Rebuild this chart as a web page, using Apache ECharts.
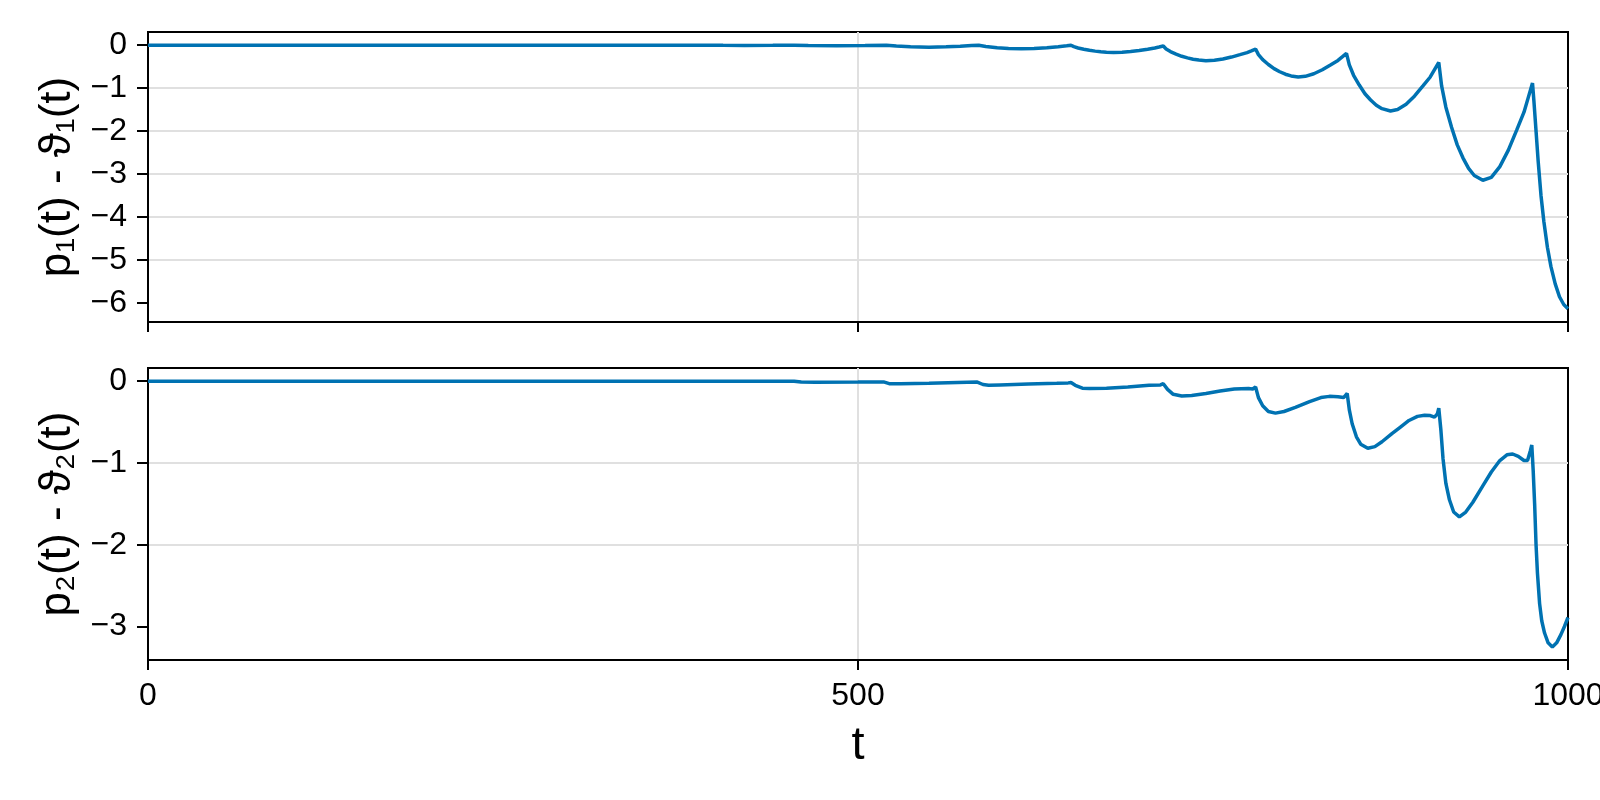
<!DOCTYPE html>
<html><head><meta charset="utf-8">
<script src="https://cdn.jsdelivr.net/npm/echarts@6/dist/echarts.min.js"></script>
<style>html,body{margin:0;padding:0;background:#fff}#c{width:1600px;height:800px}</style>
</head><body><div id="c"></div>
<script>
// ---- data ----
const xTicks = [0, 500, 1000];
const yTicksTop = [-6, -5, -4, -3, -2, -1, 0];
const yTicksBot = [-3, -2, -1, 0];
const xLabel = 't';
const yLabelTop = 'p\u2081(t) - \u03d1\u2081(t)';
const yLabelBot = 'p\u2082(t) - \u03d1\u2082(t)';

const tTop = [0,100,200,300,390,405,420,440,455,465,485,505,520,527,537,550,562,572,580,585,
  590,598,606,615,624,633,641,647,650,652,655,659,663,667,671,675,680,686,692,698,704,709,712,715,
  717,720,724,728,732,736,740,745,751,757,763,769,774,777,780,
  782,785,789,793,797,801,805,810,815,821,827,833,838,841,844,
  846,849,853,857,861,865,869,875,880,886,892,898,903,906,909,
  911,914,918,922,926,930,934,940,946,952,958,964,969,972,975,
  976,977.5,979,981,983,985.5,988,991,994,997,1000];
const vTop = [0,0,0,0,0,-0.004,-0.007,-0.004,0,-0.006,-0.012,-0.007,0,-0.02,-0.035,-0.045,-0.038,-0.024,-0.009,0,
  -0.03,-0.058,-0.075,-0.085,-0.078,-0.058,-0.034,-0.013,0,-0.034,-0.065,-0.094,-0.119,-0.138,-0.153,-0.163,-0.17,-0.166,-0.149,-0.124,-0.092,-0.065,-0.043,-0.02,
  -0.088,-0.149,-0.207,-0.258,-0.295,-0.326,-0.346,-0.36,-0.352,-0.322,-0.276,-0.22,-0.171,-0.131,-0.09,
  -0.22,-0.337,-0.448,-0.545,-0.617,-0.675,-0.714,-0.74,-0.724,-0.663,-0.57,-0.454,-0.355,-0.273,-0.19,
  -0.458,-0.699,-0.927,-1.128,-1.275,-1.396,-1.476,-1.53,-1.496,-1.372,-1.18,-0.942,-0.739,-0.57,-0.4,
  -0.948,-1.441,-1.907,-2.318,-2.619,-2.866,-3.03,-3.14,-3.072,-2.824,-2.439,-1.965,-1.558,-1.219,-0.88,
  -1.3,-2.0,-2.7,-3.5,-4.1,-4.7,-5.15,-5.55,-5.85,-6.03,-6.13];

const tBot = [0,100,200,300,400,455,460,470,500,518,522,530,550,570,584,588,592,600,620,640,648,650,
  653,658,663,675,690,705,713,715,718,722,728,735,745,755,765,775,778,780,
  782,785,789,794,800,808,818,826,832,838,842,844.5,
  846,848,851,854,859,864,869,876,882,888,894,899,903,906,908,909,
  910.5,912,914,916.5,919.5,923.5,928,933,940,946,952,957,961,965,969,971.5,973.5,974.5,
  975.5,976.5,977.5,978.5,980,981.5,983.5,986,989,992,995,997.5,1000];
const vBot = [0,0,0,0,0,0,-0.01,-0.012,-0.01,-0.008,-0.03,-0.032,-0.025,-0.015,-0.01,-0.04,-0.05,-0.045,-0.035,-0.025,-0.02,-0.016,
  -0.05,-0.085,-0.09,-0.085,-0.07,-0.05,-0.045,-0.03,-0.1,-0.16,-0.18,-0.175,-0.15,-0.12,-0.095,-0.09,-0.095,-0.07,
  -0.2,-0.3,-0.37,-0.39,-0.37,-0.32,-0.25,-0.2,-0.185,-0.19,-0.2,-0.15,
  -0.35,-0.52,-0.68,-0.77,-0.82,-0.8,-0.74,-0.64,-0.56,-0.48,-0.43,-0.415,-0.42,-0.44,-0.4,-0.33,
  -0.6,-0.95,-1.25,-1.45,-1.6,-1.66,-1.6,-1.48,-1.28,-1.11,-0.97,-0.9,-0.89,-0.92,-0.97,-0.97,-0.85,-0.78,
  -1.1,-1.5,-2.0,-2.35,-2.72,-2.93,-3.08,-3.2,-3.25,-3.2,-3.1,-3.0,-2.89];

// ---- chart ----
const FONT = '"Liberation Sans", Arial, "DejaVu Sans", sans-serif';
const fmt = v => (v < 0 ? '\u2212' + Math.abs(v) : String(v));
const zip = (a, b) => a.map((x, i) => [x, b[i]]);
const grid = '#e0e0e0';

function xAx(gi, labels) {
  return {
    gridIndex: gi, type: 'value', min: xTicks[0], max: xTicks[xTicks.length - 1], interval: xTicks[1] - xTicks[0],
    axisLine: {show: true, onZero: false, lineStyle: {color: '#000', width: 2}},
    axisTick: {show: true, inside: false, length: 10, lineStyle: {color: '#000', width: 2}},
    axisLabel: {show: labels, margin: 20, color: '#000', fontSize: 32, fontFamily: FONT,
      formatter: fmt},
    splitLine: {show: true, showMinLine: false, showMaxLine: false, lineStyle: {color: grid, width: 2}},
    name: labels ? xLabel : '', nameLocation: 'middle', nameGap: 63,
    nameTextStyle: {color: '#000', fontSize: 47, fontFamily: FONT}
  };
}
function yAx(gi, mn, mx, ticks, label) {
  return {
    gridIndex: gi, type: 'value', min: mn, max: mx,
    axisLine: {show: true, onZero: false, lineStyle: {color: '#000', width: 2}},
    axisTick: {show: true, inside: false, length: 11, customValues: ticks, lineStyle: {color: '#000', width: 2}},
    axisLabel: {show: true, margin: 21, customValues: ticks, color: '#000', fontSize: 32, fontFamily: FONT,
      formatter: fmt},
    splitLine: {show: true, showMinLine: false, showMaxLine: false, lineStyle: {color: grid, width: 2}},
    name: label, nameLocation: 'middle', nameGap: 66, nameRotate: 90,
    nameTextStyle: {color: '#000', fontSize: 44, fontFamily: FONT}
  };
}

const chart = echarts.init(document.getElementById('c'));
chart.setOption({
  backgroundColor: '#fff',
  animation: false,
  grid: [
    {left: 148, top: 32, width: 1420, height: 290, show: true, borderColor: '#000', borderWidth: 2,
      backgroundColor: 'transparent', containLabel: false, outerBoundsMode: 'none'},
    {left: 148, top: 368, width: 1420, height: 292, show: true, borderColor: '#000', borderWidth: 2,
      backgroundColor: 'transparent', containLabel: false, outerBoundsMode: 'none'}
  ],
  xAxis: [xAx(0, false), xAx(1, true)],
  yAxis: [yAx(0, -6.437, 0.307, yTicksTop, yLabelTop), yAx(1, -3.41, 0.162, yTicksBot, yLabelBot)],
  series: [
    {type: 'line', xAxisIndex: 0, yAxisIndex: 0, data: zip(tTop, vTop), showSymbol: false,
      lineStyle: {color: '#0072b2', width: 3.5}, itemStyle: {color: '#0072b2'}},
    {type: 'line', xAxisIndex: 1, yAxisIndex: 1, data: zip(tBot, vBot), showSymbol: false,
      lineStyle: {color: '#0072b2', width: 3.5}, itemStyle: {color: '#0072b2'}}
  ]
});
</script>
</body></html>
